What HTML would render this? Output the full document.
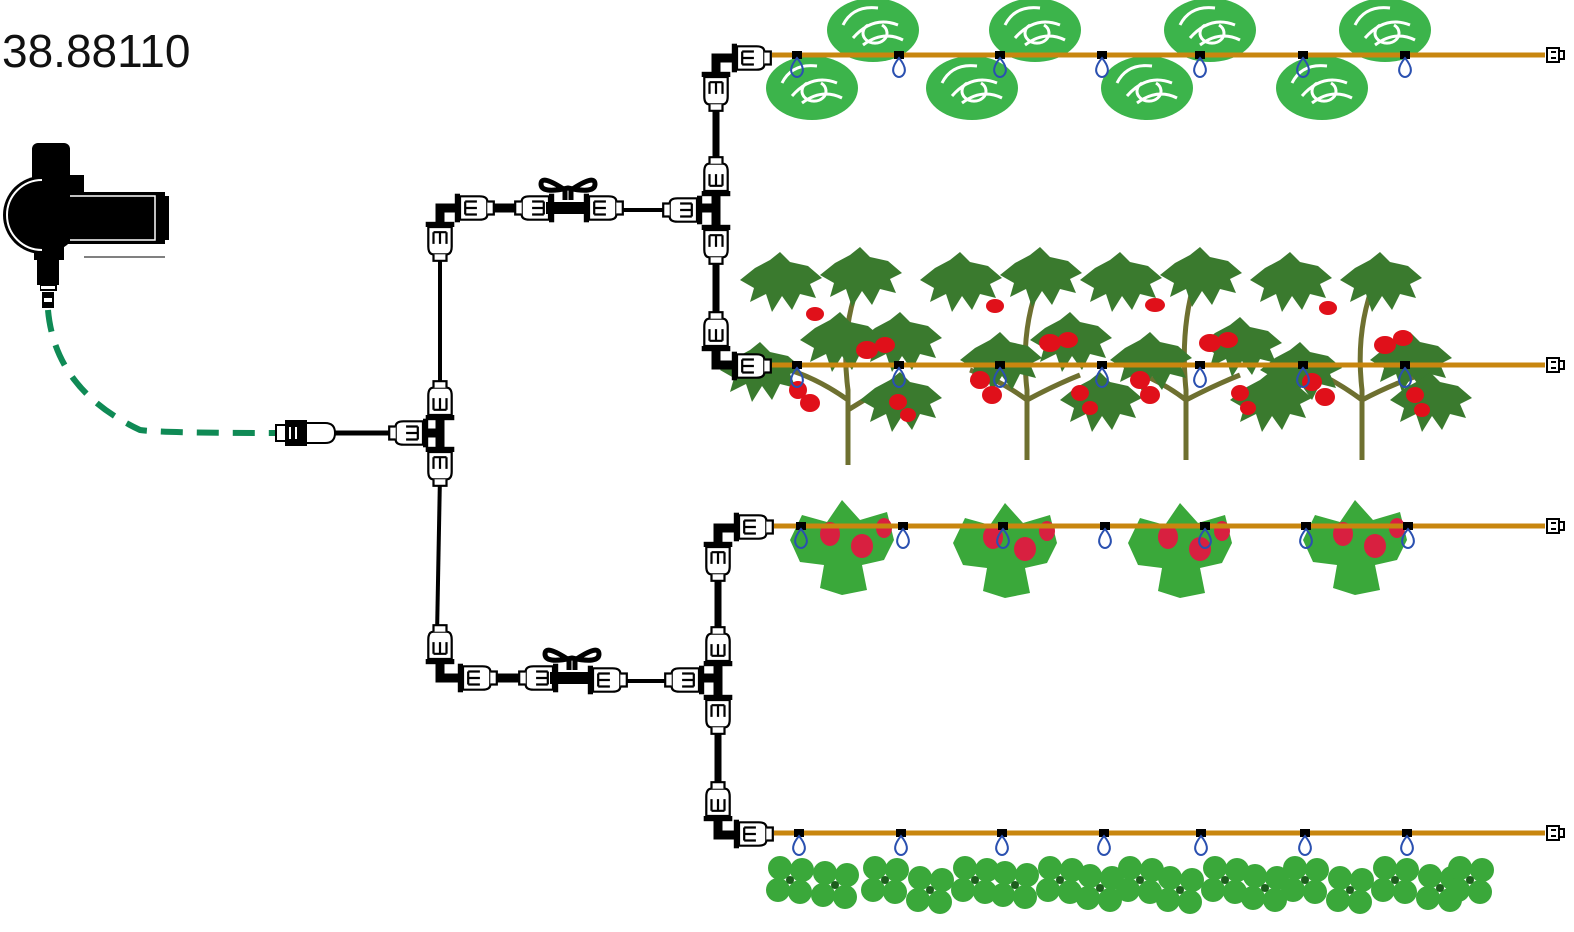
<!DOCTYPE html>
<html><head><meta charset="utf-8"><style>
html,body{margin:0;padding:0;background:#fff;width:1574px;height:932px;overflow:hidden}
svg{position:absolute;left:0;top:0}
.t{position:absolute;left:2px;top:24px;font:46px "Liberation Sans",sans-serif;color:#111}
</style></head><body>
<svg width="1574" height="932" viewBox="0 0 1574 932">
<defs>
<g id="f"><g transform="scale(1.3)"><rect x="-14" y="-11" width="4" height="22" fill="#000"/><path d="M-10,-9 H5 Q11,-9 11,-5 V5 Q11,9 5,9 H-10Z" fill="#fff" stroke="#000" stroke-width="1.7"/><path d="M11,-5 h5 v10 h-5" fill="#fff" stroke="#000" stroke-width="1.7"/><path d="M-6,-5 h9 M-6,0 h9 M-6,5 h9 M-6,-5 v10" stroke="#000" stroke-width="1.7" fill="none"/></g></g>
<g id="d"><rect x="-5" y="-4" width="10" height="8" fill="#000"/><path d="M0,3 Q-10,15 -3,21 Q0,23 3,21 Q10,15 0,3Z" fill="none" stroke="#2a50b0" stroke-width="2"/></g>
<g id="cap"><path d="M-8,-7 H4 V7 H-8Z M4,-4 h5 v8 h-5" fill="#fff" stroke="#000" stroke-width="2"/><path d="M-4,-3 h5 M-4,3 h5" stroke="#000" stroke-width="2"/></g>
<g id="valve"><path d="M-3,-8 V-18 Q-27,-34 -27,-24 Q-27,-14 0,-20 Q27,-14 27,-24 Q27,-34 3,-18 V-8" fill="none" stroke="#000" stroke-width="5"/><rect x="-22" y="-6" width="44" height="12" fill="#000"/></g>
<g id="let"><ellipse cx="0" cy="0" rx="46" ry="32" fill="#3cb44b"/><path d="M-30,-5 Q-20,-25 5,-22 M-20,8 Q0,-15 25,-5 M-10,15 Q10,0 30,10 M-5,-5 a12,10 0 1 0 14,0" fill="none" stroke="#fff" stroke-width="3"/></g>
<g id="tl" fill="#3a7a2e"><path d="M-40,0 L-25,-12 L-10,-20 L0,-28 L10,-18 L28,-14 L42,-2 L30,4 L36,18 L20,14 L12,30 L2,16 L-8,32 L-14,14 L-30,22 L-26,8Z"/></g>
<g id="sb"><path d="M-52,0 L-40,-25 L-15,-18 L0,-40 L18,-20 L45,-28 L52,0 L42,20 L20,25 L25,50 L0,55 L-22,48 L-18,25 L-42,22Z" fill="#3aa83a"/><ellipse cx="-12" cy="-6" rx="10" ry="12" fill="#d82040"/><ellipse cx="20" cy="6" rx="11" ry="12" fill="#d82040"/><ellipse cx="42" cy="-12" rx="8" ry="10" fill="#d82040"/></g>
<g id="cl" fill="#3aa83a"><circle cx="-10" cy="-12" r="12"/><circle cx="12" cy="-10" r="12"/><circle cx="-12" cy="10" r="12"/><circle cx="10" cy="12" r="12"/><circle cx="0" cy="0" r="4" fill="#1e5e1e"/></g>
</defs>

<use href="#let" x="873" y="30"/><use href="#let" x="1035" y="30"/><use href="#let" x="1210" y="30"/><use href="#let" x="1385" y="30"/>
<use href="#let" x="812" y="88"/><use href="#let" x="972" y="88"/><use href="#let" x="1147" y="88"/><use href="#let" x="1322" y="88"/>

<g stroke="#6e7030" stroke-width="5" fill="none">
<path d="M848,465 V390 Q840,330 860,280 M848,400 Q820,380 790,370 M848,410 Q880,390 900,380"/>
<path d="M1027,460 V390 Q1020,330 1040,280 M1027,400 Q1000,380 970,370 M1027,400 Q1055,385 1080,375"/>
<path d="M1186,460 V390 Q1180,330 1195,280 M1186,400 Q1160,380 1130,370 M1186,400 Q1215,385 1240,375"/>
<path d="M1362,460 V390 Q1355,330 1375,280 M1362,400 Q1335,380 1310,370 M1362,400 Q1390,385 1420,375"/>
</g>
<use href="#tl" x="780" y="280"/><use href="#tl" x="860" y="275"/><use href="#tl" x="960" y="280"/><use href="#tl" x="1040" y="275"/><use href="#tl" x="1120" y="280"/><use href="#tl" x="1200" y="275"/><use href="#tl" x="1290" y="280"/><use href="#tl" x="1380" y="280"/>
<use href="#tl" x="760" y="370"/><use href="#tl" x="900" y="340"/><use href="#tl" x="1000" y="360"/><use href="#tl" x="1070" y="340"/><use href="#tl" x="1150" y="360"/><use href="#tl" x="1240" y="345"/><use href="#tl" x="1300" y="370"/><use href="#tl" x="1410" y="360"/><use href="#tl" x="840" y="340"/><use href="#tl" x="900" y="400"/><use href="#tl" x="1100" y="400"/><use href="#tl" x="1270" y="400"/><use href="#tl" x="1430" y="400"/>
<g fill="#e0101a">
<ellipse cx="815" cy="314" rx="9" ry="7"/><ellipse cx="867" cy="350" rx="11" ry="9"/><ellipse cx="885" cy="345" rx="10" ry="8"/><ellipse cx="798" cy="390" rx="9" ry="9"/><ellipse cx="810" cy="403" rx="10" ry="9"/><ellipse cx="898" cy="402" rx="9" ry="8"/><ellipse cx="908" cy="415" rx="8" ry="7"/>
<ellipse cx="995" cy="306" rx="9" ry="7"/><ellipse cx="980" cy="380" rx="10" ry="9"/><ellipse cx="992" cy="395" rx="10" ry="9"/><ellipse cx="1050" cy="343" rx="11" ry="9"/><ellipse cx="1068" cy="340" rx="10" ry="8"/><ellipse cx="1080" cy="393" rx="9" ry="8"/><ellipse cx="1090" cy="408" rx="8" ry="7"/>
<ellipse cx="1155" cy="305" rx="10" ry="7"/><ellipse cx="1140" cy="380" rx="10" ry="9"/><ellipse cx="1150" cy="395" rx="10" ry="9"/><ellipse cx="1210" cy="343" rx="11" ry="9"/><ellipse cx="1228" cy="340" rx="10" ry="8"/><ellipse cx="1240" cy="393" rx="9" ry="8"/><ellipse cx="1248" cy="408" rx="8" ry="7"/>
<ellipse cx="1328" cy="308" rx="9" ry="7"/><ellipse cx="1312" cy="382" rx="10" ry="9"/><ellipse cx="1325" cy="397" rx="10" ry="9"/><ellipse cx="1385" cy="345" rx="11" ry="9"/><ellipse cx="1403" cy="338" rx="10" ry="8"/><ellipse cx="1415" cy="395" rx="9" ry="8"/><ellipse cx="1422" cy="410" rx="8" ry="7"/>
</g>
<use href="#sb" x="842" y="540"/><use href="#sb" x="1005" y="543"/><use href="#sb" x="1180" y="543"/><use href="#sb" x="1355" y="540"/>
<use href="#cl" x="790" y="880"/><use href="#cl" x="835" y="885"/><use href="#cl" x="885" y="880"/><use href="#cl" x="930" y="890"/><use href="#cl" x="975" y="880"/><use href="#cl" x="1015" y="885"/><use href="#cl" x="1060" y="880"/><use href="#cl" x="1100" y="888"/><use href="#cl" x="1140" y="880"/><use href="#cl" x="1180" y="890"/><use href="#cl" x="1225" y="880"/><use href="#cl" x="1265" y="888"/><use href="#cl" x="1305" y="880"/><use href="#cl" x="1350" y="890"/><use href="#cl" x="1395" y="880"/><use href="#cl" x="1440" y="888"/><use href="#cl" x="1470" y="880"/>

<!-- timer -->
<g fill="#000">
<rect x="32" y="143" width="38" height="40" rx="6"/><rect x="58" y="175" width="26" height="20"/>
<circle cx="42" cy="215" r="39"/><rect x="40" y="192" width="125" height="52"/><rect x="155" y="196" width="14" height="44"/>
<rect x="34" y="240" width="30" height="20"/><rect x="37" y="255" width="22" height="30"/><rect x="40" y="283" width="17" height="8"/><rect x="42" y="292" width="12" height="16"/>
</g>
<path d="M42,180 A34,34 0 0 0 42,250" fill="none" stroke="#fff" stroke-width="2"/>
<path d="M70,196 H155 V240 H70" fill="none" stroke="#fff" stroke-width="1.5"/>
<line x1="84" y1="257" x2="165" y2="257" stroke="#000" stroke-width="1"/>
<rect x="41" y="286" width="14" height="3" fill="#fff"/><rect x="44" y="298" width="8" height="4" fill="#fff"/>

<path d="M48,310 Q55,390 140,430 Q160,433 280,433" fill="none" stroke="#0f8a55" stroke-width="6" stroke-dasharray="22 14"/>

<g stroke="#000" fill="none">
<line x1="335" y1="433" x2="400" y2="433" stroke-width="5"/>
<line x1="440" y1="250" x2="440" y2="390" stroke-width="4"/>
<line x1="440" y1="475" x2="437" y2="635" stroke-width="4"/>
<path d="M460,208 H440 V228" stroke-width="9"/>
<path d="M440,660 V678 H460" stroke-width="9"/>
<line x1="486" y1="208" x2="522" y2="208" stroke-width="9"/>
<line x1="614" y1="210" x2="672" y2="210" stroke-width="4"/>
<line x1="488" y1="678" x2="525" y2="678" stroke-width="9"/>
<line x1="618" y1="681" x2="673" y2="681" stroke-width="4"/>
<line x1="424" y1="433" x2="440" y2="433" stroke-width="9"/><line x1="440" y1="415" x2="440" y2="452" stroke-width="9"/>
<line x1="700" y1="208" x2="716" y2="208" stroke-width="9"/>
<line x1="702" y1="678" x2="718" y2="678" stroke-width="9"/>
<path d="M735,58 H716 V75" stroke-width="9"/><line x1="716" y1="105" x2="716" y2="165" stroke-width="7"/><line x1="716" y1="190" x2="716" y2="230" stroke-width="9"/><line x1="716" y1="258" x2="716" y2="320" stroke-width="7"/><path d="M716,348 V365 H736" stroke-width="9"/>
<path d="M738,528 H718 V545" stroke-width="9"/><line x1="718" y1="575" x2="718" y2="635" stroke-width="7"/><line x1="718" y1="660" x2="718" y2="700" stroke-width="9"/><line x1="718" y1="728" x2="718" y2="790" stroke-width="7"/><path d="M718,818 V835 H738" stroke-width="9"/>
</g>
<g stroke="#000" stroke-width="2" fill="#fff"><rect x="276" y="425" width="10" height="16"/><rect x="286" y="421" width="20" height="24" fill="#000"/><path d="M306,423 H325 Q335,423 335,433 Q335,443 325,443 H306Z"/></g>
<path d="M290,427 v12 M296,427 v12" stroke="#fff" stroke-width="2"/>

<use href="#f" transform="translate(410,433) rotate(180)"/>
<use href="#f" transform="translate(440,240) rotate(90)"/><use href="#f" transform="translate(440,402) rotate(-90)"/><use href="#f" transform="translate(440,465) rotate(90)"/><use href="#f" transform="translate(440,646) rotate(-90)"/>
<use href="#f" x="473" y="208"/><use href="#f" transform="translate(536,208) rotate(180)"/><use href="#f" x="602" y="208"/><use href="#f" transform="translate(684,210) rotate(180)"/>
<use href="#valve" x="568" y="208"/>
<use href="#f" x="476" y="678"/><use href="#f" transform="translate(540,678) rotate(180)"/><use href="#f" x="606" y="680"/><use href="#f" transform="translate(686,680) rotate(180)"/>
<use href="#valve" x="572" y="678"/>
<use href="#f" transform="translate(716,90) rotate(90)"/><use href="#f" transform="translate(716,178) rotate(-90)"/><use href="#f" transform="translate(716,243) rotate(90)"/><use href="#f" transform="translate(716,333) rotate(-90)"/>
<use href="#f" x="750" y="58"/><use href="#f" x="750" y="366"/>
<use href="#f" transform="translate(718,560) rotate(90)"/><use href="#f" transform="translate(718,648) rotate(-90)"/><use href="#f" transform="translate(718,713) rotate(90)"/><use href="#f" transform="translate(718,803) rotate(-90)"/>
<use href="#f" x="752" y="527"/><use href="#f" x="752" y="834"/>

<g stroke="#c8860f" stroke-width="5"><line x1="772" y1="55" x2="1545" y2="55"/><line x1="772" y1="365" x2="1545" y2="365"/><line x1="774" y1="526" x2="1545" y2="526"/><line x1="774" y1="833" x2="1545" y2="833"/></g>
<use href="#cap" x="1555" y="55"/><use href="#cap" x="1555" y="365"/><use href="#cap" x="1555" y="526"/><use href="#cap" x="1555" y="833"/>
<g>
<use href="#d" x="797" y="55"/><use href="#d" x="899" y="55"/><use href="#d" x="1000" y="55"/><use href="#d" x="1102" y="55"/><use href="#d" x="1200" y="55"/><use href="#d" x="1303" y="55"/><use href="#d" x="1405" y="55"/>
<use href="#d" x="797" y="365"/><use href="#d" x="899" y="365"/><use href="#d" x="1000" y="365"/><use href="#d" x="1102" y="365"/><use href="#d" x="1200" y="365"/><use href="#d" x="1303" y="365"/><use href="#d" x="1405" y="365"/>
<use href="#d" x="801" y="526"/><use href="#d" x="903" y="526"/><use href="#d" x="1003" y="526"/><use href="#d" x="1105" y="526"/><use href="#d" x="1205" y="526"/><use href="#d" x="1306" y="526"/><use href="#d" x="1408" y="526"/>
<use href="#d" x="799" y="833"/><use href="#d" x="901" y="833"/><use href="#d" x="1002" y="833"/><use href="#d" x="1104" y="833"/><use href="#d" x="1201" y="833"/><use href="#d" x="1305" y="833"/><use href="#d" x="1407" y="833"/>
</g>
</svg>
<div class="t">38.88110</div>
</body></html>
